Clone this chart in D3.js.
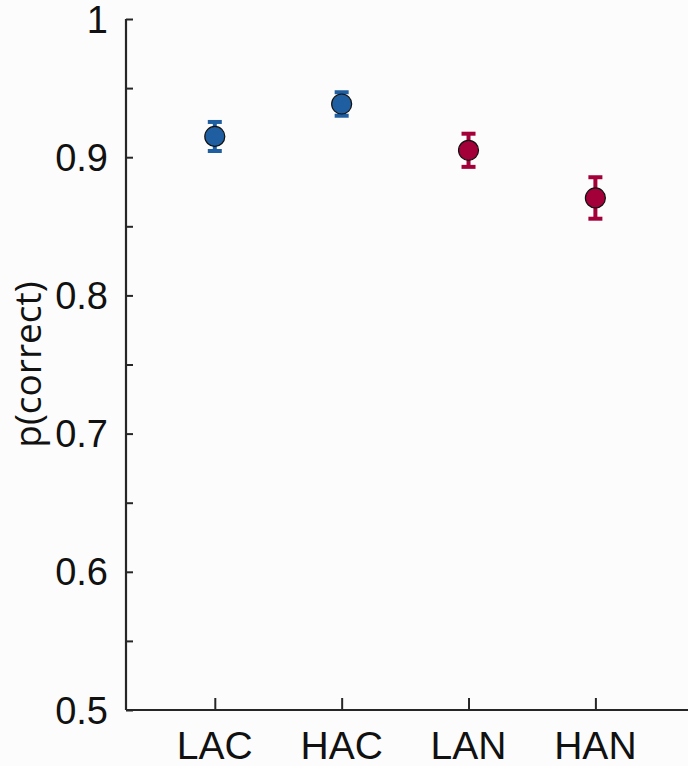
<!DOCTYPE html>
<html>
<head>
<meta charset="utf-8">
<script src="https://cdn.jsdelivr.net/npm/d3@7"></script>
<style>
  html, body { margin: 0; padding: 0; background: #fcfcfc; }
  svg { display: block; font-family: 'Open Sans', 'Noto Sans', sans-serif; }
  .axis path, .axis line { stroke: #262626; }
  .axis text { fill: #111; }
</style>
</head>
<body>
<script>
// data
const conditions = ['LAC', 'HAC', 'LAN', 'HAN']
const means = [0.915, 0.9385, 0.905, 0.8705]
const errors = [0.0105, 0.0085, 0.012, 0.015]
const groups = ['congruent', 'congruent', 'neutral', 'neutral']
const yTicks = [0.5, 0.55, 0.6, 0.65, 0.7, 0.75, 0.8, 0.85, 0.9, 0.95, 1]

const COLORS = { congruent: '#1f5fa1', neutral: '#a3003a' }

const WIDTH = 688, HEIGHT = 766
const MARGINS = { top: 19, right: 0, bottom: 56, left: 126 }

const R = 10
const CAP = 14

const rows = conditions.map((c, i) => ({ name: c, pos: i + 1, mean: means[i], err: errors[i], group: groups[i] }))

const svg = d3.select('body').append('svg')
  .attr('width', WIDTH)
  .attr('height', HEIGHT)

const x = d3.scaleLinear()
  .domain([0.3, 4.73])
  .range([MARGINS.left, WIDTH - MARGINS.right])

const y = d3.scaleLinear()
  .domain([0.5, 1])
  .range([HEIGHT - MARGINS.bottom, MARGINS.top])

// axes, ticks pointing inward like matlab
const yAxis = d3.axisRight(y)
  .tickValues(yTicks)
  .tickSize(7)
  .tickFormat('')

const gy = svg.append('g')
  .attr('class', 'y axis')
  .attr('transform', 'translate(' + MARGINS.left + ',0)')
  .call(yAxis)

gy.select('.domain').attr('stroke-width', 2.2).attr('d', 'M0,' + y(1) + 'V' + y(0.5))
gy.selectAll('line').attr('stroke-width', 2)

gy.selectAll('.lbl')
    .data(yTicks.filter((d) => Math.round(d * 100) % 10 === 0))
  .enter().append('text')
    .attr('class', 'lbl')
    .attr('x', -18)
    .attr('y', (d) => y(d))
    .attr('dy', '0.36em')
    .attr('text-anchor', 'end')
    .attr('font-size', 38)
    .attr('fill', '#111')
    .text((d) => d3.format('~g')(d))

const xAxis = d3.axisTop(x)
  .tickValues(rows.map((d) => d.pos))
  .tickSize(12)
  .tickFormat('')

const gx = svg.append('g')
  .attr('class', 'x axis')
  .attr('transform', 'translate(0,' + y(0.5) + ')')
  .call(xAxis)

gx.select('.domain').attr('stroke-width', 2.2).attr('d', 'M' + MARGINS.left + ',0H' + WIDTH)
gx.selectAll('line').attr('stroke-width', 2)

gx.selectAll('.lbl')
    .data(rows)
  .enter().append('text')
    .attr('class', 'lbl')
    .attr('x', (d) => x(d.pos))
    .attr('y', 49)
    .attr('text-anchor', 'middle')
    .attr('font-size', 39)
    .attr('fill', '#111')
    .text((d) => d.name)

svg.append('text')
  .attr('transform', 'translate(41,' + ((y(1) + y(0.5)) / 2) + ') rotate(-90)')
  .attr('text-anchor', 'middle')
  .attr('font-size', 37)
  .attr('fill', '#111')
  .text('p(correct)')

// points with error bars
const pt = svg.append('g')
  .selectAll('.pt')
    .data(rows)
  .enter().append('g')
    .attr('class', 'pt')
    .attr('transform', (d) => 'translate(' + x(d.pos) + ',0)')

pt.append('line')
  .attr('y1', (d) => y(d.mean + d.err))
  .attr('y2', (d) => y(d.mean - d.err))
  .attr('stroke', (d) => COLORS[d.group])
  .attr('stroke-width', 4)

pt.selectAll('.cap')
    .data((d) => [d.mean + d.err, d.mean - d.err].map((v) => ({ v, group: d.group })))
  .enter().append('line')
    .attr('class', 'cap')
    .attr('x1', -CAP / 2)
    .attr('x2', CAP / 2)
    .attr('y1', (d) => y(d.v))
    .attr('y2', (d) => y(d.v))
    .attr('stroke', (d) => COLORS[d.group])
    .attr('stroke-width', 4)

pt.append('circle')
  .attr('cy', (d) => y(d.mean))
  .attr('r', R)
  .attr('fill', (d) => COLORS[d.group])
  .attr('stroke', '#111')
  .attr('stroke-width', 1.2)
</script>
</body>
</html>
